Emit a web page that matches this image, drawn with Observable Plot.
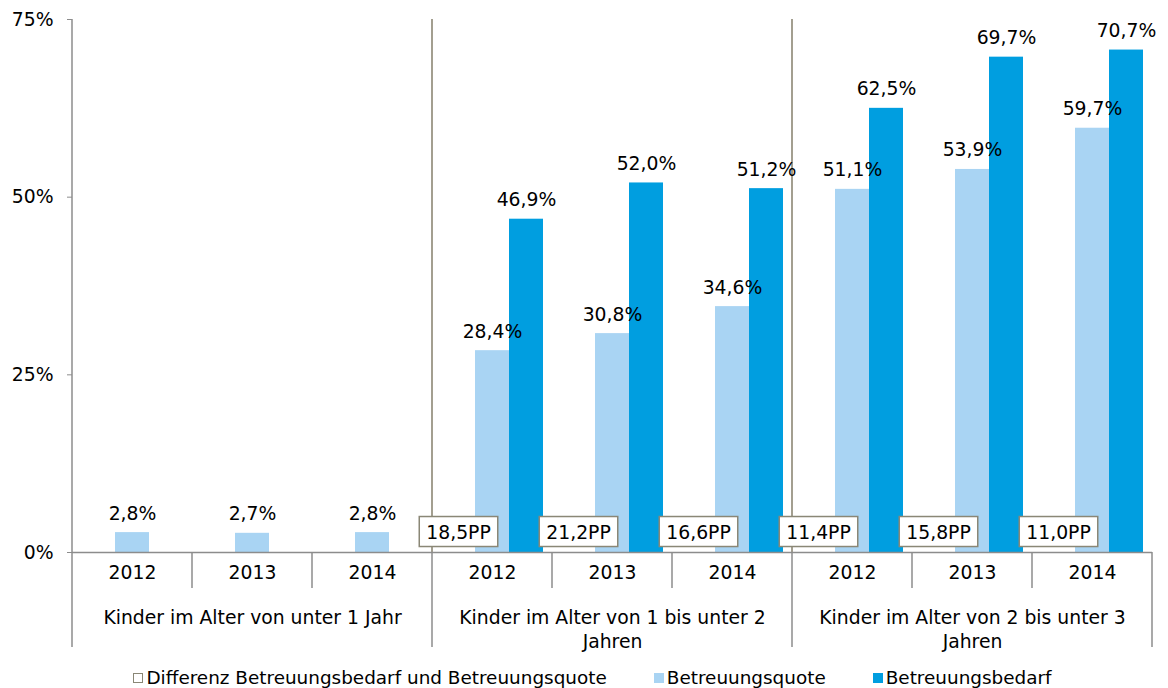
<!DOCTYPE html>
<html><head><meta charset="utf-8">
<script src="https://cdn.jsdelivr.net/npm/d3@7"></script>
<script src="https://cdn.jsdelivr.net/npm/@observablehq/plot@0.6"></script>
<style>
body{margin:0;background:#fff;font-family:"DejaVu Sans",Verdana,sans-serif;overflow:hidden;}
#legend{display:flex;justify-content:center;gap:47px;height:27px;line-height:27px;font-size:18.4px;color:#000;padding-left:17px;white-space:nowrap;}
#legend .item{display:flex;align-items:center;}
#legend .sw{display:inline-block;width:10px;height:10px;margin-right:3px;box-sizing:border-box;}
</style></head><body>
<div id="chart"></div>
<div id="legend"></div>
<script>
const groups = ["Kinder im Alter von unter 1 Jahr", "Kinder im Alter von 1 bis unter 2\nJahren", "Kinder im Alter von 2 bis unter 3\nJahren"];
const years = ["2012", "2013", "2014"];
const quote = [2.8, 2.7, 2.8, 28.4, 30.8, 34.6, 51.1, 53.9, 59.7];
const bedarf = [null, null, null, 46.9, 52.0, 51.2, 62.5, 69.7, 70.7];
const diff = [null, null, null, 18.5, 21.2, 16.6, 11.4, 15.8, 11.0];
const seriesNames = ["Differenz Betreuungsbedarf und Betreuungsquote", "Betreuungsquote", "Betreuungsbedarf"];
const seriesColors = ["#ffffff", "#a9d4f3", "#009ee0"];
const yTicks = [0, 25, 50, 75];

const cats = [];
groups.forEach((g, gi) => years.forEach((yr, yi) => cats.push({key: `${gi}-${yr}`, year: yr, i: gi * 3 + yi})));
const keys = cats.map(c => c.key);
const rows = [];
cats.forEach(c => {
  rows.push({key: c.key, series: seriesNames[0], value: diff[c.i]});
  rows.push({key: c.key, series: seriesNames[1], value: quote[c.i]});
  rows.push({key: c.key, series: seriesNames[2], value: bedarf[c.i]});
});
const fmt = v => v.toFixed(1).replace(".", ",");
const bars = rows.filter(r => r.series !== seriesNames[0] && r.value != null);
const diffs = rows.filter(r => r.series === seriesNames[0] && r.value != null);
const groupLabels = groups.map((g, gi) => ({key: `${gi}-${years[1]}`, label: g}));

const FS = 18.8;
const chart = Plot.plot({
  width: 1168, height: 664,
  marginLeft: 69, marginRight: 14, marginTop: 19, marginBottom: 112,
  style: {fontFamily: "DejaVu Sans, Verdana, sans-serif", fontSize: FS + "px", color: "#000", background: "#fff"},
  fx: {domain: keys, padding: 0, axis: null},
  x: {domain: seriesNames, paddingInner: 0, paddingOuter: 0.25, axis: null},
  y: {domain: [0, 75], axis: null},
  color: {domain: seriesNames, range: seriesColors},
  marks: [
    Plot.axisY({ticks: yTicks, tickFormat: d => d + "%", tickSize: 5, tickPadding: 14, stroke: "#8c8c8c", fill: "#000", label: null, fontSize: FS}),
    Plot.barY(bars, {fx: "key", x: "series", y: "value", fill: "series"}),
    Plot.ruleY([0], {stroke: "#8c8c8c", strokeWidth: 1.5}),
    Plot.text(bars, {fx: "key", x: "series", y: "value", text: d => fmt(d.value) + "%", lineAnchor: "bottom", dy: -13, fill: "#000", fontSize: FS}),
    Plot.text(diffs, {fx: "key", x: "series", y: 0, text: d => fmt(d.value) + "PP", dy: -20, fill: "#000", fontSize: FS, ariaDescription: "diff-labels"}),
    Plot.text(cats, {fx: "key", text: "year", frameAnchor: "bottom", dy: 26, fill: "#000", fontSize: FS}),
    Plot.text(groupLabels, {fx: "key", text: "label", frameAnchor: "bottom", lineAnchor: "top", dy: 55, lineHeight: 1.27, fill: "#000", fontSize: FS})
  ]
});
document.getElementById("chart").append(chart);

// decorations: axis line, group separators, category ticks (from the plot's scales)
const svg = d3.select(chart);
const fxs = chart.scale("fx"), ys = chart.scale("y");
const y0 = ys.apply(0), yTop = ys.apply(75);
const bw = fxs.bandwidth;
const deco = svg.insert("g", ":first-child");
function line(x1, y1, x2, y2, c, w = 1.5) {
  deco.append("line").attr("x1", x1).attr("y1", y1).attr("x2", x2).attr("y2", y2).attr("stroke", c).attr("stroke-width", w);
}
keys.forEach((k, i) => {
  const x = Math.round(fxs.apply(k));
  if (i === 0) line(x, yTop, x, y0 + 95, "#8c8c8c");
  else if (i % 3 === 0) { line(x, yTop, x, y0, "#857f6b"); line(x, y0, x, y0 + 95, "#8c8c8c"); }
  else line(x, y0, x, y0 + 36, "#8c8c8c");
});
const xr = Math.round(fxs.apply(keys[keys.length - 1]) + bw);
line(xr, y0, xr, y0 + 95, "#8c8c8c");

// boxes behind the difference labels
svg.selectAll('[aria-description="diff-labels"] text').each(function () {
  const b = this.getBBox();
  const r = document.createElementNS("http://www.w3.org/2000/svg", "rect");
  r.setAttribute("x", b.x - 7);
  r.setAttribute("width", b.width + 14);
  r.setAttribute("y", b.y + b.height / 2 - 15.5);
  r.setAttribute("height", 30);
  r.setAttribute("fill", "#fff");
  r.setAttribute("stroke", "#8a8776");
  r.setAttribute("stroke-width", 1.5);
  const t = this.getAttribute("transform");
  if (t) r.setAttribute("transform", t);
  this.parentNode.insertBefore(r, this);
});

// legend
const leg = d3.select("#legend");
seriesNames.forEach((n, i) => {
  const it = leg.append("div").attr("class", "item");
  it.append("span").attr("class", "sw")
    .style("background", seriesColors[i])
    .style("border", i === 0 ? "1px solid #8a8776" : "none");
  it.append("span").text(n);
});
</script>
</body></html>
